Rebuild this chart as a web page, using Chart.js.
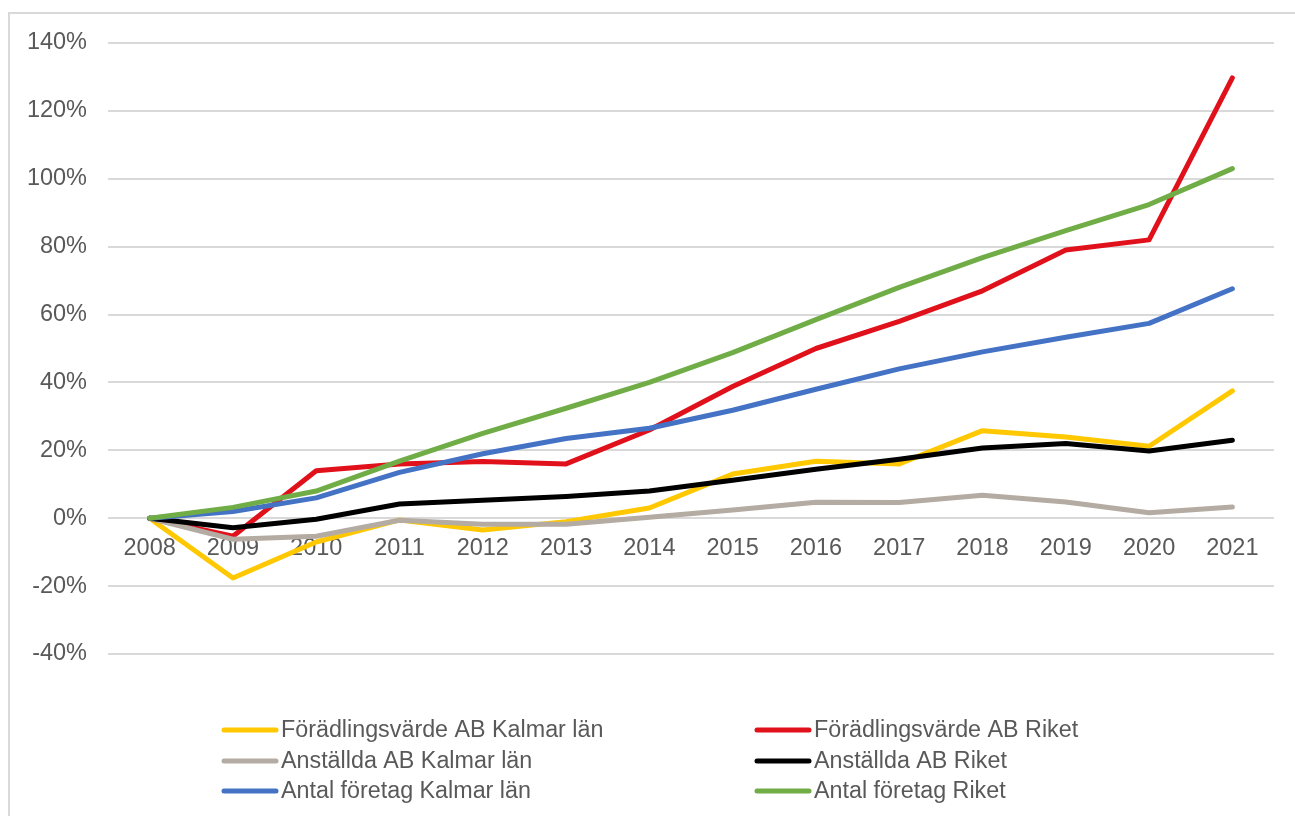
<!DOCTYPE html>
<html>
<head>
<meta charset="utf-8">
<script src="https://cdn.jsdelivr.net/npm/chart.js@4/dist/chart.umd.min.js"></script>
<style>
  html, body { margin: 0; padding: 0; background: #fff; }
  #wrap { width: 1295px; height: 816px; }
</style>
</head>
<body>
<div id="wrap"><canvas id="growthChart" width="1295" height="816"></canvas></div>
<script>
// ======================================================
// Data - index (2008 = 0 %)
// ======================================================
const years = ['2008', '2009', '2010', '2011', '2012', '2013', '2014', '2015', '2016', '2017', '2018', '2019', '2020', '2021'];

const foradlingKalmar = [0, -17.6, -7, -0.5, -3.5, -1, 3, 13, 16.8, 16, 25.8, 23.9, 21.2, 37.5];
const foradlingRiket  = [0, -5.3, 14, 16, 16.7, 16, 26, 38.8, 50, 58, 67, 79, 82, 129.7];
const anstalldaKalmar = [0, -6.2, -5.3, -0.6, -1.8, -1.8, 0.3, 2.4, 4.7, 4.6, 6.8, 4.8, 1.6, 3.3];
const anstalldaRiket  = [0, -2.8, -0.3, 4.2, 5.3, 6.4, 8, 11.2, 14.4, 17.4, 20.7, 22, 19.8, 23];
const foretagKalmar   = [0, 2, 6, 13.5, 19, 23.5, 26.5, 31.8, 38, 44, 49, 53.3, 57.4, 67.6];
const foretagRiket    = [0, 3.2, 8, 16.8, 25, 32.4, 40, 48.8, 58.5, 68, 76.8, 84.7, 92.4, 103];

const seriesLabels = [
  'Förädlingsvärde AB Kalmar län',
  'Förädlingsvärde AB Riket',
  'Anställda AB Kalmar län',
  'Anställda AB Riket',
  'Antal företag Kalmar län',
  'Antal företag Riket'
];
const seriesColors = ['#FFC800', '#E0111B', '#B4ABA3', '#000000', '#4472C4', '#70AD47'];
const seriesData = [foradlingKalmar, foradlingRiket, anstalldaKalmar, anstalldaRiket, foretagKalmar, foretagRiket];

const FONT = '"Liberation Sans", Arial, sans-serif';
const TEXT = '#595959';

// ram runt diagrammet (vänster + topp, resten beskärs)
const frame = {
  id: 'frame',
  beforeDraw(chart) {
    const c = chart.ctx;
    c.save();
    c.strokeStyle = '#d9d9d9';
    c.lineWidth = 2;
    c.beginPath();
    c.moveTo(1400, 13);
    c.lineTo(9, 13);
    c.lineTo(9, 900);
    c.stroke();
    c.restore();
  }
};

// legend i två kolumner, radvis som i Excel
const twoColLegend = {
  id: 'twoColLegend',
  afterDraw(chart) {
    const c = chart.ctx;
    const cols = [222, 755];
    const rows = [730, 761, 791];
    c.save();
    c.font = '23.3px ' + FONT;
    c.textBaseline = 'middle';
    c.fillStyle = TEXT;
    chart.data.datasets.forEach((ds, i) => {
      const x = cols[i % 2];
      const y = rows[Math.floor(i / 2)];
      c.strokeStyle = ds.borderColor;
      c.lineWidth = 5;
      c.lineCap = 'round';
      c.beginPath();
      c.moveTo(x + 2, y);
      c.lineTo(x + 54, y);
      c.stroke();
      c.fillText(ds.label, x + 59, y + 1);
    });
    c.restore();
  }
};

const ctx = document.getElementById('growthChart').getContext('2d');

new Chart(ctx, {
  type: 'line',
  data: {
    labels: years,
    datasets: seriesData.map((d, i) => ({
      label: seriesLabels[i],
      data: d,
      borderColor: seriesColors[i],
      backgroundColor: seriesColors[i],
      borderWidth: 5,
      pointRadius: 0,
      borderCapStyle: 'round',
      borderJoinStyle: 'round',
      tension: 0,
      order: seriesData.length - i
    }))
  },
  options: {
    responsive: false,
    animation: false,
    layout: { padding: { left: 0, top: 43, right: 21, bottom: 162 } },
    plugins: {
      legend: { display: false },
      tooltip: { enabled: false }
    },
    scales: {
      x: {
        position: { y: 0 },
        offset: true,
        grid: { display: false },
        border: { display: false },
        ticks: { color: TEXT, font: { family: FONT, size: 23.5 }, padding: 8, maxRotation: 0 }
      },
      y: {
        min: -40,
        max: 140,
        afterFit: s => { s.width = 108; },
        grid: { color: '#d9d9d9', lineWidth: 2, drawTicks: false },
        border: { display: false },
        ticks: {
          stepSize: 20,
          color: TEXT,
          font: { family: FONT, size: 23.5 },
          padding: 21,
          callback: v => v + '%'
        }
      }
    }
  },
  plugins: [frame, twoColLegend]
});
</script>
</body>
</html>
